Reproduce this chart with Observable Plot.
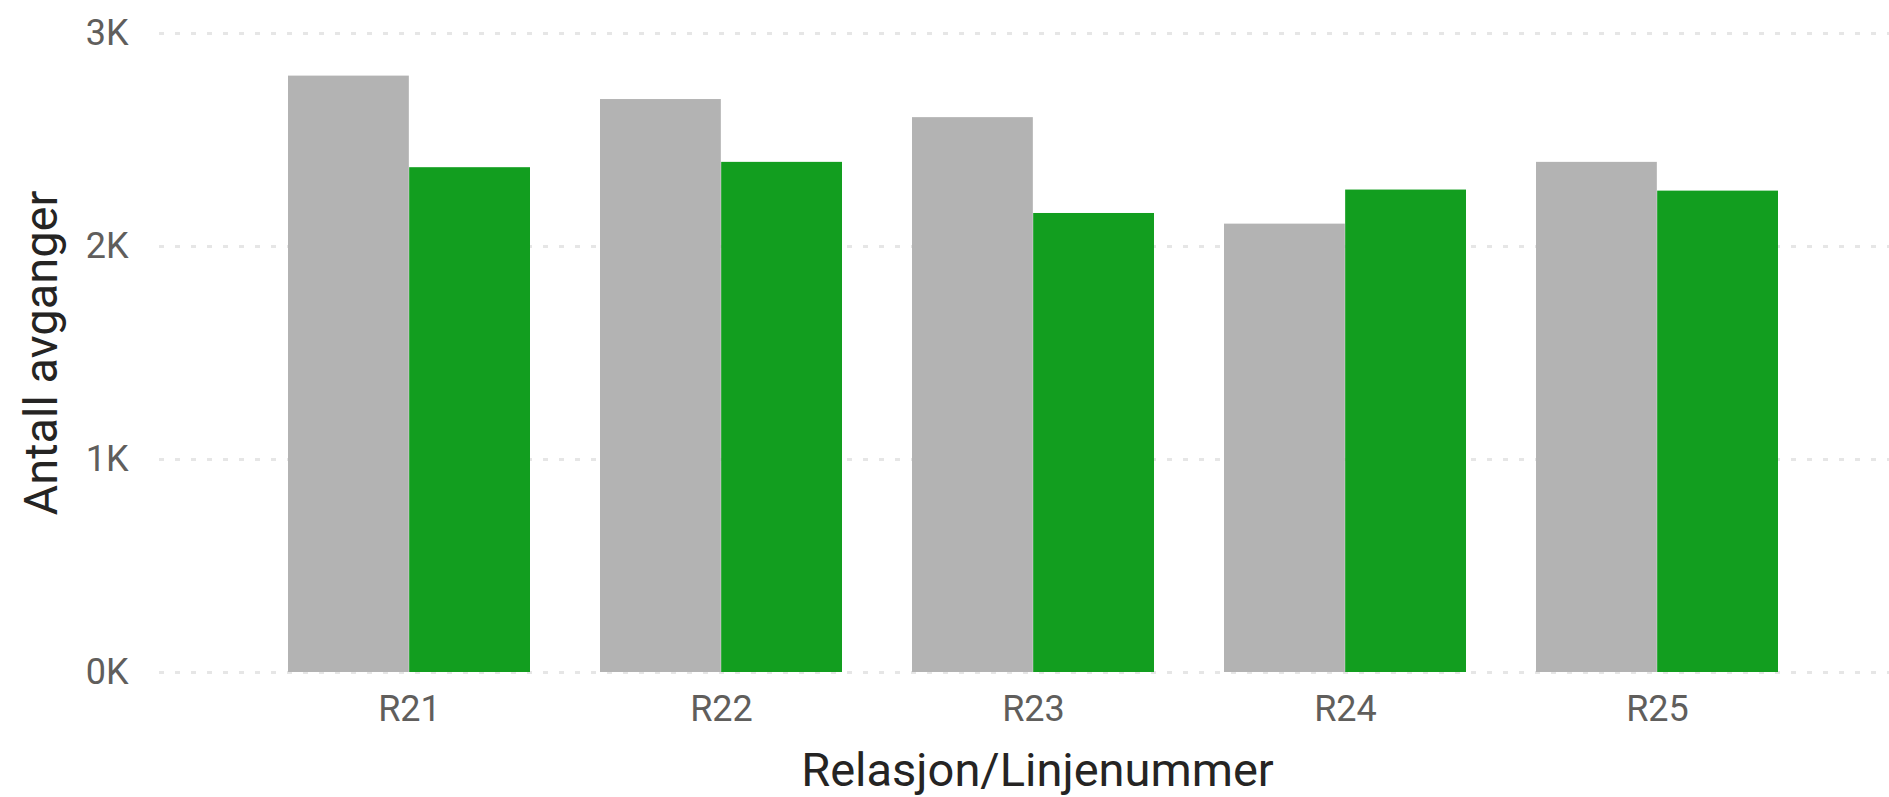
<!DOCTYPE html>
<html>
<head>
<meta charset="utf-8">
<script src="https://cdn.jsdelivr.net/npm/d3@7"></script>
<script src="https://cdn.jsdelivr.net/npm/@observablehq/plot@0.6"></script>
<style>
  html, body { margin: 0; padding: 0; background: #ffffff; }
  #chart svg { display: block; }
</style>
</head>
<body>
<div id="chart"></div>
<script>
const categories = ["R21", "R22", "R23", "R24", "R25"];
const grayValues = [2800, 2690, 2605, 2105, 2395];
const greenValues = [2370, 2395, 2155, 2265, 2260];
const yTicks = [0, 1000, 2000, 3000];
const xTitle = "Relasjon/Linjenummer";
const yTitle = "Antall avganger";

const rows = categories.map((c, i) => ({cat: c, gray: grayValues[i], green: greenValues[i]}));

const W = 1889, H = 797;
const mL = 159, mR = 0, mT = 33, mB = 125;
const padIn = 0.224, padOut = 0.382, alignX = 0.537;
const bw = d3.scaleBand().domain(categories).range([mL, W - mR])
  .paddingInner(padIn).paddingOuter(padOut).align(alignX).bandwidth();

const chart = Plot.plot({
  width: W, height: H,
  marginLeft: mL, marginRight: mR, marginTop: mT, marginBottom: mB,
  style: {fontFamily: "Roboto, 'DejaVu Sans', sans-serif", fontSize: "36px", color: "#605E5C", background: "#ffffff"},
  x: {domain: categories, paddingInner: padIn, paddingOuter: padOut, align: alignX, label: null, tickSize: 0, tickPadding: 23},
  y: {domain: [0, 3000], ticks: yTicks, tickFormat: d => (d / 1000) + "K", label: null, tickSize: 0, tickPadding: 31},
  marks: [
    Plot.ruleY(yTicks, {stroke: "#e6e6e6", strokeWidth: 3, strokeDasharray: "5,11"}),
    Plot.barY(rows, {x: "cat", y: "gray", fill: "#b3b3b3", insetRight: bw / 2, insetLeft: 0}),
    Plot.barY(rows, {x: "cat", y: "green", fill: "#129e1f", insetLeft: bw / 2, insetRight: 0}),
    Plot.text([xTitle], {frameAnchor: "bottom", dx: 13, dy: 113, lineAnchor: "bottom", textAnchor: "middle", fontSize: 47, fill: "#252423"}),
    Plot.text([yTitle], {frameAnchor: "left", dx: -118, rotate: -90, lineAnchor: "middle", textAnchor: "middle", fontSize: 47, fill: "#252423"})
  ]
});
document.getElementById("chart").appendChild(chart);
</script>
</body>
</html>
